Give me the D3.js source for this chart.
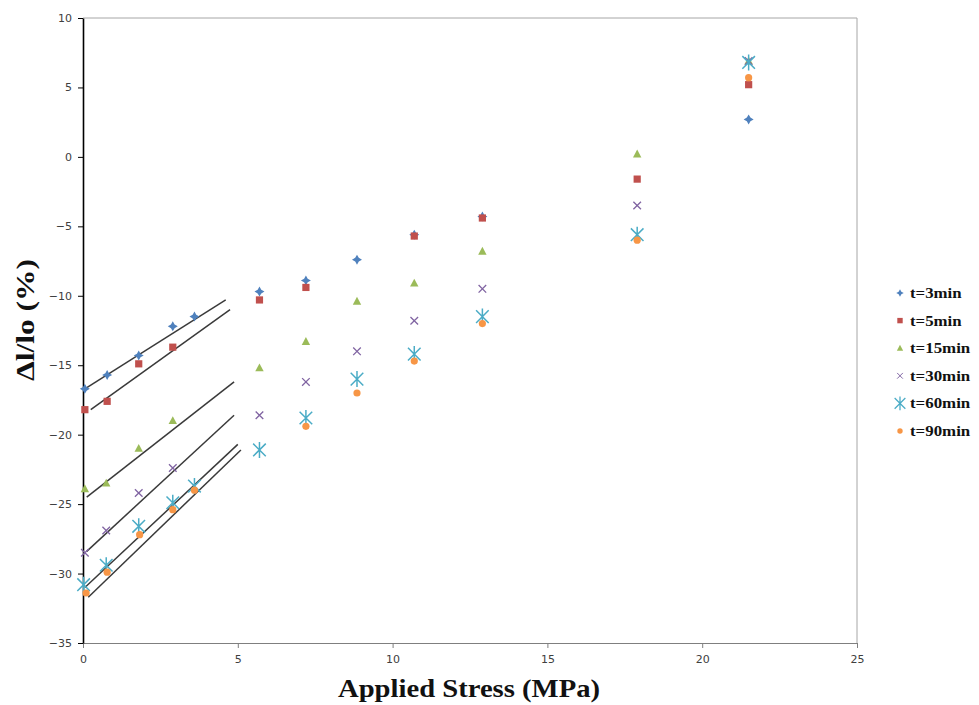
<!DOCTYPE html>
<html>
<head>
  <meta charset="utf-8">
  <script src="https://d3js.org/d3.v7.min.js"></script>
  <style>
    body { margin: 0; background: #fff; }
    .tick text { font-family: 'DejaVu Sans', sans-serif; font-size: 11px; fill: #404040; }
    .legend text { font-family: 'Liberation Serif', serif; font-weight: bold; font-size: 14px; fill: #111; }
    .title { font-family: 'Liberation Serif', serif; font-weight: bold; font-size: 25px; fill: #111; }
  </style>
</head>
<body>
<script>
  // stress values (MPa) per series and the measured strain (%)
  var names = ["t=3min", "t=5min", "t=15min", "t=30min", "t=60min", "t=90min"];
  var colors = ["#4F81BD", "#C0504D", "#9BBB59", "#8064A2", "#4BACC6", "#F79646"];

  var x3 = [0.06, 0.78, 1.8, 2.9, 3.6, 5.7, 7.2, 8.85, 10.7, 12.9, 21.5];
  var y3 = [-16.7, -15.7, -14.3, -12.2, -11.5, -9.7, -8.9, -7.4, -5.6, -4.3, 2.7];
  var x5 = [0.06, 0.78, 1.8, 2.9, 5.7, 7.2, 10.7, 12.9, 17.9, 21.5];
  var y5 = [-18.2, -17.6, -14.9, -13.7, -10.3, -9.4, -5.7, -4.4, -1.6, 5.2];
  var x15 = [0.06, 0.75, 1.8, 2.9, 5.7, 7.2, 8.85, 10.7, 12.9, 17.9, 21.5];
  var y15 = [-23.9, -23.5, -21.0, -19.0, -15.2, -13.3, -10.4, -9.1, -6.8, 0.2, 6.9];
  var x30 = [0.06, 0.75, 1.8, 2.9, 5.7, 7.2, 8.85, 10.7, 12.9, 17.9, 21.5];
  var y30 = [-28.5, -26.9, -24.2, -22.4, -18.6, -16.2, -14.0, -11.8, -9.5, -3.5, 6.9];
  var x60 = [0.02, 0.75, 1.8, 2.9, 3.6, 5.7, 7.2, 8.85, 10.7, 12.9, 17.9, 21.5];
  var y60 = [-30.8, -29.4, -26.6, -24.9, -23.7, -21.1, -18.8, -16.0, -14.2, -11.5, -5.6, 6.8];
  var x90 = [0.1, 0.78, 1.83, 2.9, 3.6, 7.2, 8.85, 10.7, 12.9, 17.9, 21.5];
  var y90 = [-31.4, -29.9, -27.2, -25.4, -24.0, -19.4, -17.0, -14.7, -12.0, -6.0, 5.7];

  // straight fit lines over the low-stress points: [x0, y0, x1, y1]
  var trends = [
    [0.06, -16.7, 4.61, -10.3],
    [0.25, -18.2, 4.75, -11.0],
    [0.12, -24.5, 4.88, -16.2],
    [0.12, -28.4, 4.88, -18.6],
    [0.06, -31.0, 5.0, -20.7],
    [0.17, -31.7, 5.1, -21.1]
  ];

  var xTicks = [0, 5, 10, 15, 20, 25];
  var yTicks = [10, 5, 0, -5, -10, -15, -20, -25, -30, -35];

  var xs = [x3, x5, x15, x30, x60, x90];
  var ys = [y3, y5, y15, y30, y60, y90];

  var W = 979, H = 705;
  var pL = 83, pR = 857, pT = 18, pB = 643;

  var svg = d3.select("body").append("svg")
    .attr("width", W).attr("height", H);

  var x = d3.scaleLinear().domain([0, 25]).range([pL, pR]);
  var y = d3.scaleLinear().domain([-35, 10]).range([pB, pT]);

  // plot frame (top and right)
  svg.append("path")
    .attr("d", "M" + pL + "," + pT + "H" + pR + "V" + pB)
    .attr("fill", "none").attr("stroke", "#a6a6a6").attr("stroke-width", 1);

  var xa = svg.append("g")
    .attr("transform", "translate(0," + pB + ")")
    .call(d3.axisBottom(x).tickValues(xTicks).tickSize(5).tickSizeOuter(0).tickPadding(7));
  xa.selectAll("path, line").attr("stroke", "#7f7f7f");

  var ya = svg.append("g")
    .attr("transform", "translate(" + pL + ",0)")
    .call(d3.axisLeft(y).tickValues(yTicks).tickSize(5).tickSizeOuter(0).tickPadding(6));
  ya.selectAll("path, line").attr("stroke", "#000");
  ya.select(".domain").attr("stroke-width", 1.6);

  // trend lines
  svg.append("g").selectAll("line").data(trends).enter().append("line")
    .attr("x1", function (d) { return x(d[0]); })
    .attr("y1", function (d) { return y(d[1]); })
    .attr("x2", function (d) { return x(d[2]); })
    .attr("y2", function (d) { return y(d[3]); })
    .attr("stroke", "#3a3a3a").attr("stroke-width", 1.5);

  // marker shapes
  function drawMarker(g, i, cx, cy, scale) {
    var s = scale || 1;
    var c = colors[i];
    var m = g.append("g").attr("transform", "translate(" + cx + "," + cy + ") scale(" + s + ")");
    if (i === 0) {
      m.append("path").attr("d", "M0,-5L1.8,-1.8L5,0L1.8,1.8L0,5L-1.8,1.8L-5,0L-1.8,-1.8Z").attr("fill", c);
    } else if (i === 1) {
      m.append("rect").attr("x", -3.6).attr("y", -3.6).attr("width", 7.2).attr("height", 7.2).attr("fill", c);
    } else if (i === 2) {
      m.append("path").attr("d", "M0,-4.5L4.2,3.3L-4.2,3.3Z").attr("fill", c);
    } else if (i === 3) {
      m.append("path").attr("d", "M-3.8,-3.8L3.8,3.8M-3.8,3.8L3.8,-3.8")
        .attr("stroke", c).attr("stroke-width", 1.3);
    } else if (i === 4) {
      m.append("path").attr("d", "M-6.3,-6.3L6.3,6.3M-6.3,6.3L6.3,-6.3M0,-8L0,8")
        .attr("stroke", c).attr("stroke-width", 1.5);
    } else {
      m.append("circle").attr("r", 3.6).attr("fill", c);
    }
  }

  var pts = svg.append("g");
  names.forEach(function (n, i) {
    xs[i].forEach(function (v, k) {
      drawMarker(pts, i, x(v), y(ys[i][k]));
    });
  });

  // legend
  var lg = svg.append("g").attr("class", "legend");
  names.forEach(function (n, i) {
    var ly = 293 + i * 27.6;
    drawMarker(lg, i, 900, ly, i === 4 ? 0.85 : 0.75);
    lg.append("text").attr("x", 910).attr("y", ly + 5)
      .attr("textLength", n.length * 8.6).attr("lengthAdjust", "spacingAndGlyphs")
      .text(n);
  });

  // axis titles
  svg.append("text").attr("class", "title")
    .attr("x", 338).attr("y", 697)
    .attr("textLength", 262).attr("lengthAdjust", "spacingAndGlyphs")
    .text("Applied Stress (MPa)");

  svg.append("text").attr("class", "title")
    .attr("transform", "translate(34,381) rotate(-90)")
    .attr("textLength", 122).attr("lengthAdjust", "spacingAndGlyphs")
    .text("Δl/lo (%)");
</script>
</body>
</html>
